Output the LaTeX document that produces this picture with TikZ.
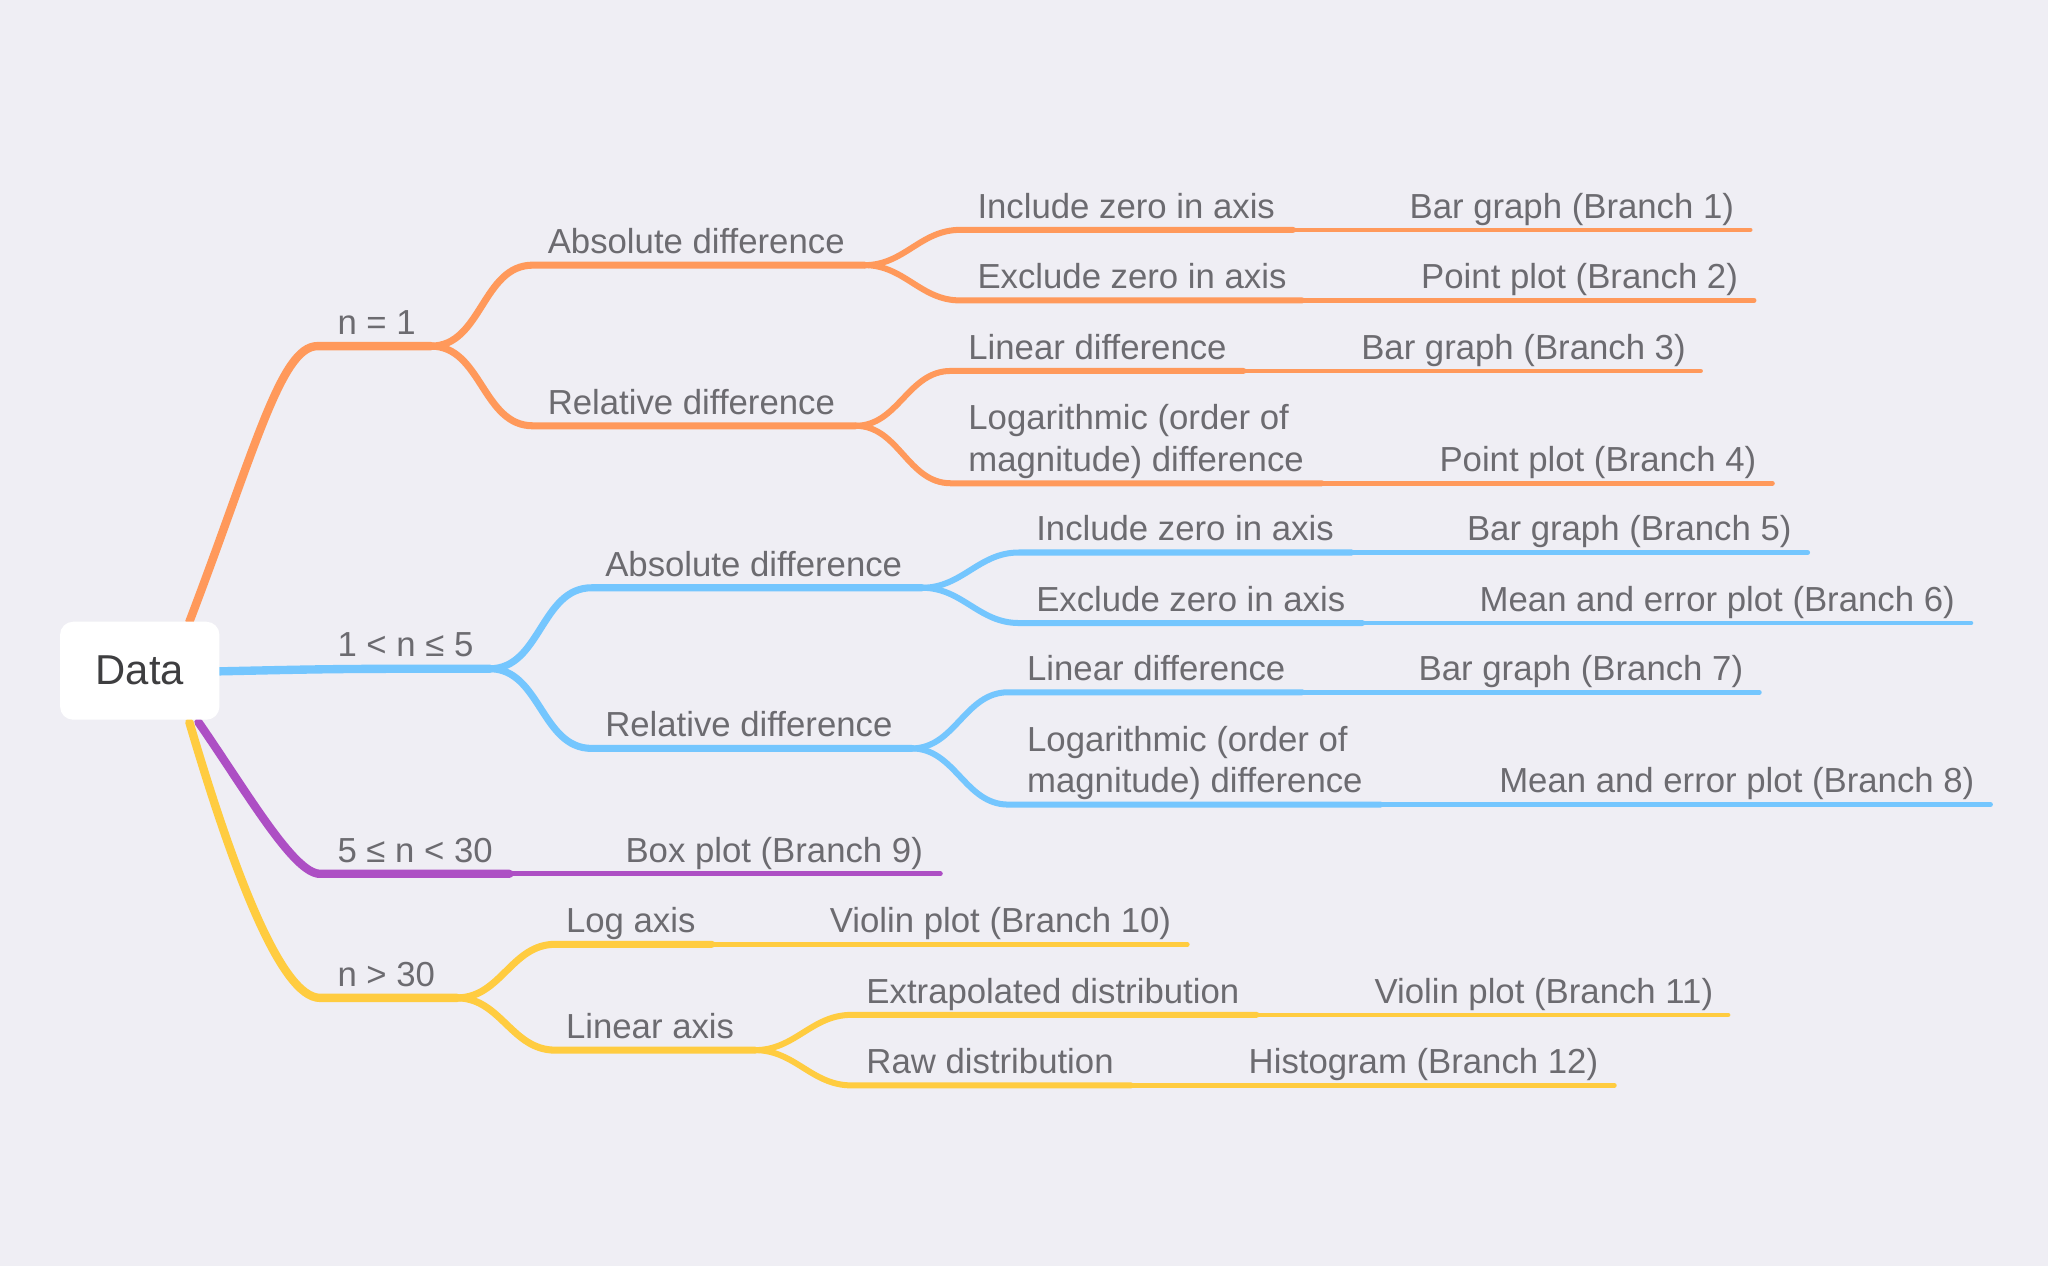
\documentclass[tikz,border=0pt]{standalone}
\usepackage{fontspec}
\setmainfont{Liberation Sans}
\usepackage{tikz}
\definecolor{bgc}{HTML}{EFEEF4}
\definecolor{orc}{HTML}{FF995B}
\definecolor{blc}{HTML}{74C6FE}
\definecolor{puc}{HTML}{AD4FC4}
\definecolor{yec}{HTML}{FFCC40}
\definecolor{txc}{HTML}{6C6B70}
\definecolor{datc}{HTML}{3E3E40}
\newcommand{\lblfont}{\fontsize{13.3}{16}\selectfont}
\begin{document}
\begin{tikzpicture}[x=0.5pt,y=-0.5pt,
  lbl/.style={anchor=base west,inner sep=0pt,font=\lblfont,text=txc},
  leaf/.style={anchor=base east,inner sep=0pt,font=\lblfont,text=txc},
  lone/.style={line width=3.2pt,line cap=round,line join=round},
  ltwo/.style={line width=2.7pt,line cap=round},
  lthree/.style={line width=2.3pt,line cap=round},
  lfour/.style={line width=1.8pt,line cap=round}]
\fill[bgc] (0,0) rectangle (1568,969);
\useasboundingbox (0,0) rectangle (1568,969);
\coordinate (o0) at (145,476);
\coordinate (o1s) at (243,265);
\coordinate (o1e) at (330,265);
\coordinate (o2s) at (408,203);
\coordinate (o2e) at (662,203);
\coordinate (o3s) at (408,326);
\coordinate (o3e) at (655,326);
\coordinate (o4s) at (735,176);
\coordinate (o4e) at (990,176);
\coordinate (o5s) at (735,230);
\coordinate (o5e) at (997,230);
\coordinate (o6s) at (728,284);
\coordinate (o6e) at (952,284);
\coordinate (o7s) at (728,370);
\coordinate (o7e) at (1012,370);
\coordinate (ol1) at (1340,176);
\coordinate (ol2) at (1343,230);
\coordinate (ol3) at (1302,284);
\coordinate (ol4) at (1357,370);
\coordinate (b0) at (168,514);
\coordinate (b1e) at (375,512);
\coordinate (b2s) at (453,450);
\coordinate (b2e) at (706,450);
\coordinate (b3s) at (453,573);
\coordinate (b3e) at (698,573);
\coordinate (b4s) at (780,423);
\coordinate (b4e) at (1035,423);
\coordinate (b5s) at (780,477);
\coordinate (b5e) at (1043,477);
\coordinate (b6s) at (772,530);
\coordinate (b6e) at (997,530);
\coordinate (b7s) at (772,616);
\coordinate (b7e) at (1057,616);
\coordinate (bl5) at (1384,423);
\coordinate (bl6) at (1509,477);
\coordinate (bl7) at (1347,530);
\coordinate (bl8) at (1524,616);
\coordinate (p0) at (152,553);
\coordinate (p1s) at (245,669);
\coordinate (p1e) at (390,669);
\coordinate (pl9) at (720,669);
\coordinate (y0) at (145,553);
\coordinate (y1s) at (245,764);
\coordinate (y1e) at (350,764);
\coordinate (y2s) at (425,723);
\coordinate (y2e) at (545,723);
\coordinate (y3s) at (425,804);
\coordinate (y3e) at (578,804);
\coordinate (y4s) at (652,777);
\coordinate (y4e) at (962,777);
\coordinate (y5s) at (652,831);
\coordinate (y5e) at (866,831);
\coordinate (yl10) at (909,723);
\coordinate (yl11) at (1323,777);
\coordinate (yl12) at (1236,831);
\draw[lone,orc] (o0) .. controls (195,345) and (215,265) .. (o1s) -- (o1e);
\draw[ltwo,orc] (o1e) to[out=0,in=180] (o2s) -- (o2e);
\draw[ltwo,orc] (o1e) to[out=0,in=180] (o3s) -- (o3e);
\draw[lthree,orc] (o2e) to[out=0,in=180] (o4s) -- (o4e);
\draw[lthree,orc] (o2e) to[out=0,in=180] (o5s) -- (o5e);
\draw[lthree,orc] (o3e) to[out=0,in=180] (o6s) -- (o6e);
\draw[lthree,orc] (o3e) to[out=0,in=180] (o7s) -- (o7e);
\draw[lfour,orc] (o4e) -- (ol1);
\draw[lfour,orc] (o5e) -- (ol2);
\draw[lfour,orc] (o6e) -- (ol3);
\draw[lfour,orc] (o7e) -- (ol4);
\draw[lone,blc] (b0) .. controls (260,512) .. (b1e);
\draw[ltwo,blc] (b1e) to[out=0,in=180] (b2s) -- (b2e);
\draw[ltwo,blc] (b1e) to[out=0,in=180] (b3s) -- (b3e);
\draw[lthree,blc] (b2e) to[out=0,in=180] (b4s) -- (b4e);
\draw[lthree,blc] (b2e) to[out=0,in=180] (b5s) -- (b5e);
\draw[lthree,blc] (b3e) to[out=0,in=180] (b6s) -- (b6e);
\draw[lthree,blc] (b3e) to[out=0,in=180] (b7s) -- (b7e);
\draw[lfour,blc] (b4e) -- (bl5);
\draw[lfour,blc] (b5e) -- (bl6);
\draw[lfour,blc] (b6e) -- (bl7);
\draw[lfour,blc] (b7e) -- (bl8);
\draw[lone,puc] (p0) .. controls (190,608) and (225,669) .. (p1s) -- (p1e);
\draw[lfour,puc] (p1e) -- (pl9);
\draw[lone,yec] (y0) .. controls (178,665) and (215,764) .. (y1s) -- (y1e);
\draw[ltwo,yec] (y1e) to[out=0,in=180] (y2s) -- (y2e);
\draw[ltwo,yec] (y1e) to[out=0,in=180] (y3s) -- (y3e);
\draw[lthree,yec] (y3e) to[out=0,in=180] (y4s) -- (y4e);
\draw[lthree,yec] (y3e) to[out=0,in=180] (y5s) -- (y5e);
\draw[lfour,yec] (y2e) -- (yl10);
\draw[lfour,yec] (y4e) -- (yl11);
\draw[lfour,yec] (y5e) -- (yl12);
\node[fill=white,rounded corners=5pt,minimum width=61pt,minimum height=37.5pt,inner sep=0pt,font=\fontsize{16}{19}\selectfont,text=datc] (root) at (107,513.5) {Data};
\node[lbl] (o1) at (258,256) {n = 1};
\node[lbl] (o2) at (419,194) {Absolute difference};
\node[lbl] (o3) at (419,317) {Relative difference};
\node[lbl] (o4) at (748,167) {Include zero in axis};
\node[lbl] (o5) at (748,221) {Exclude zero in axis};
\node[lbl] (o6) at (741,275) {Linear difference};
\node[lbl,align=left] (o7) at (741,361) {Logarithmic (order of\\magnitude) difference};
\node[leaf] (ot1) at (1328,167) {Bar graph (Branch 1)};
\node[leaf] (ot2) at (1331,221) {Point plot (Branch 2)};
\node[leaf] (ot3) at (1291,275) {Bar graph (Branch 3)};
\node[leaf] (ot4) at (1345,361) {Point plot (Branch 4)};
\node[lbl] (b1) at (258,503) {1 < n ≤ 5};
\node[lbl] (b2) at (463,441) {Absolute difference};
\node[lbl] (b3) at (463,564) {Relative difference};
\node[lbl] (b4) at (793,414) {Include zero in axis};
\node[lbl] (b5) at (793,468) {Exclude zero in axis};
\node[lbl] (b6) at (786,521) {Linear difference};
\node[lbl,align=left] (b7) at (786,607) {Logarithmic (order of\\magnitude) difference};
\node[leaf] (bt5) at (1372,414) {Bar graph (Branch 5)};
\node[leaf] (bt6) at (1497,468) {Mean and error plot (Branch 6)};
\node[leaf] (bt7) at (1335,521) {Bar graph (Branch 7)};
\node[leaf] (bt8) at (1512,607) {Mean and error plot (Branch 8)};
\node[lbl] (p1) at (258,660) {5 ≤ n < 30};
\node[leaf] (pt9) at (707,660) {Box plot (Branch 9)};
\node[lbl] (y1) at (258,755) {n > 30};
\node[lbl] (y2) at (433,714) {Log axis};
\node[lbl] (y3) at (433,795) {Linear axis};
\node[lbl] (y4) at (663,768) {Extrapolated distribution};
\node[lbl] (y5) at (663,822) {Raw distribution};
\node[leaf] (yt10) at (897,714) {Violin plot (Branch 10)};
\node[leaf] (yt11) at (1312,768) {Violin plot (Branch 11)};
\node[leaf] (yt12) at (1224,822) {Histogram (Branch 12)};
\end{tikzpicture}
\end{document}
